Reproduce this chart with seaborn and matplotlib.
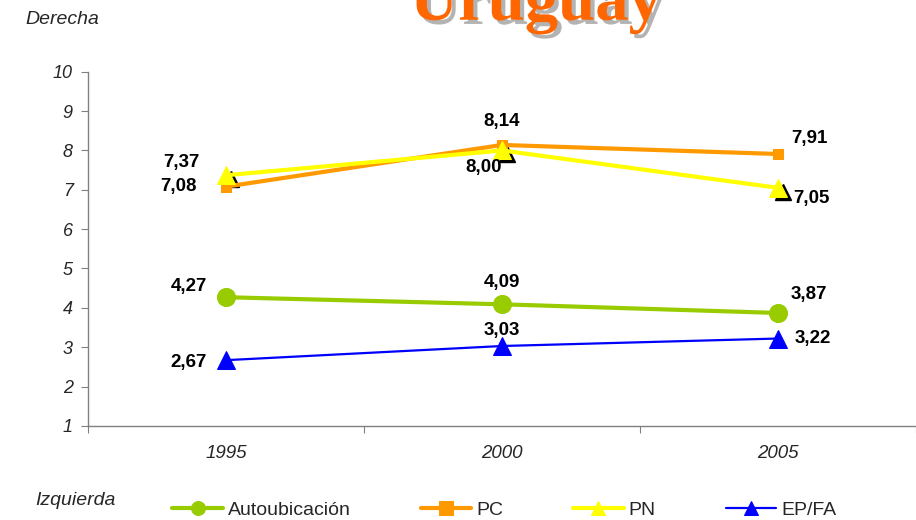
import pandas as pd
import numpy as np
import matplotlib
matplotlib.use("Agg")
import matplotlib.pyplot as plt
import matplotlib.transforms as mtrans
import matplotlib.patheffects as pe
import seaborn as sns

years = ["1995", "2000", "2005"]
auto = [4.27, 4.09, 3.87]
pc = [7.08, 8.14, 7.91]
pn = [7.37, 8.00, 7.05]
epfa = [2.67, 3.03, 3.22]
series_names = ["Autoubicación", "PC", "PN", "EP/FA"]

df = pd.DataFrame({
    "anio": years * 4,
    "pos": list(range(3)) * 4,
    "valor": auto + pc + pn + epfa,
    "serie": np.repeat(series_names, 3),
})

sns.set_style("white")
plt.rcParams["font.family"] = ["Liberation Sans", "DejaVu Sans"]

fig = plt.figure(figsize=(9.16, 5.2), dpi=100)
ax = fig.add_axes([0.096, 0.181, 0.904, 0.681])

colores = {"Autoubicación": "#99CC00", "PC": "#FF9900", "PN": "#FFFF00", "EP/FA": "#0000FF"}
marcas = {"Autoubicación": "o", "PC": "s", "PN": "^", "EP/FA": "^"}
tam = {"Autoubicación": 13, "PC": 7.5, "PN": 13, "EP/FA": 13}
grosor = {"Autoubicación": 3, "PC": 3, "PN": 3, "EP/FA": 1.6}

# sombra negra de los triangulos de PN
sombra = mtrans.offset_copy(ax.transData, fig=fig, x=5, y=-4, units="dots")
sub = df[df.serie == "PN"]
ax.plot(sub.pos, sub.valor, ls="none", marker="^", ms=11, color="black",
        transform=sombra, zorder=2)

for s in series_names:
    sub = df[df.serie == s]
    sns.lineplot(data=sub, x="pos", y="valor", ax=ax, color=colores[s],
                 marker=marcas[s], markersize=tam[s], linewidth=grosor[s],
                 markeredgecolor=colores[s], label=s, zorder=3)

# etiquetas de datos
offsets = {
    "Autoubicación": [(-27, 8), (0, 16), (22, 13)],
    "PC": [(-34, 0), (0, 17), (23, 11)],
    "PN": [(-32, 9), (-13, -12), (24, -8)],
    "EP/FA": [(-27, -2), (0, 11), (25, 0)],
}
for s in series_names:
    sub = df[df.serie == s].reset_index(drop=True)
    for i, r in sub.iterrows():
        ax.annotate(f"{r.valor:.2f}".replace(".", ","), (r.pos, r.valor),
                    xytext=offsets[s][i], textcoords="offset points",
                    ha="center", va="center", fontsize=13.5, fontweight="bold",
                    color="black", zorder=5)

ax.set_xlim(-0.5, 2.5)
ax.set_ylim(1, 10)
ax.set_yticks(range(1, 11))
ax.set_yticklabels([str(v) for v in range(1, 11)], fontsize=13, style="italic")
ax.set_xticks([-0.5, 0.5, 1.5, 2.5])
ax.set_xticklabels([])
ax.set_xticks([0, 1, 2], minor=True)
ax.set_xticklabels(years, minor=True, fontsize=13.5, style="italic")
ax.tick_params(axis="x", which="minor", length=0, pad=14)
ax.tick_params(axis="x", which="major", length=5, direction="out", color="#808080", bottom=True)
ax.tick_params(axis="y", length=5, direction="out", color="#808080", left=True, pad=6)
ax.set_xlabel("")
ax.set_ylabel("")
for sp in ["top", "right"]:
    ax.spines[sp].set_visible(False)
for sp in ["left", "bottom"]:
    ax.spines[sp].set_color("#808080")
    ax.spines[sp].set_linewidth(1)

leg = ax.legend(loc="center left", bbox_to_anchor=(0.102, -0.237), ncol=4,
                frameon=False, handlelength=2.6, columnspacing=3.6,
                handletextpad=0.25, borderpad=0, borderaxespad=0,
                prop={"size": 14})
for h in leg.legend_handles:
    h.set_markersize(10)

fig.text(0.028, 0.962, "Derecha", fontsize=14, style="italic", ha="left", va="center")
fig.text(0.038, 0.038, "Izquierda", fontsize=14, style="italic", ha="left", va="center")
fig.text(0.585, 0.962, "Uruguay", fontsize=48, fontweight="bold", color="#FF6600",
         family=["Liberation Serif", "DejaVu Serif"], ha="center", va="baseline",
         path_effects=[pe.withSimplePatchShadow(offset=(3, -3), shadow_rgbFace="#A0A0A0", alpha=0.8)])

fig.savefig("out.png", dpi=100)
